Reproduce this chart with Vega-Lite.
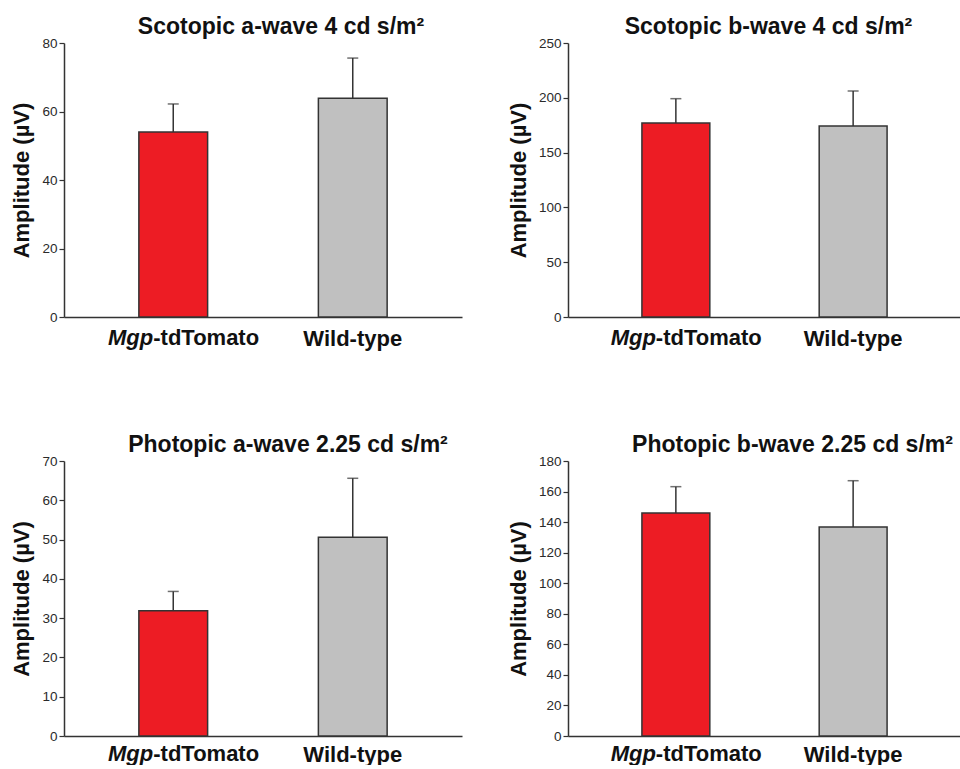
{
  "$schema": "https://vega.github.io/schema/vega-lite/v6.json",
  "background": "white",
  "padding": {"left": 10, "top": 16, "right": 0, "bottom": 0},
  "config": {
    "view": {"stroke": null},
    "font": "Liberation Sans",
    "axis": {"domainColor": "#333333", "domainWidth": 1.5, "labelFont": "Liberation Sans", "labelFontSize": 13.5, "labelColor": "#2a2a2a", "labelPadding": 2, "tickColor": "#333333", "tickWidth": 1.2, "tickSize": 5, "grid": false, "titleFont": "Liberation Sans", "titleFontSize": 22, "titleFontWeight": "bold", "titleColor": "#111111"},
    "title": {"font": "Liberation Sans", "fontSize": 23, "fontWeight": "bold", "color": "#111111", "offset": -3}
  },
  "datasets": {
    "erg": [
      {"panel": "sa", "group": "Mgp-tdTomato", "mean": 54.0, "upper": 62.2},
      {"panel": "sa", "group": "Wild-type", "mean": 63.9, "upper": 75.6},
      {"panel": "sb", "group": "Mgp-tdTomato", "mean": 177.0, "upper": 199.2},
      {"panel": "sb", "group": "Wild-type", "mean": 174.3, "upper": 206.2},
      {"panel": "pa", "group": "Mgp-tdTomato", "mean": 31.9, "upper": 36.8},
      {"panel": "pa", "group": "Wild-type", "mean": 50.6, "upper": 65.6},
      {"panel": "pb", "group": "Mgp-tdTomato", "mean": 146.0, "upper": 163.2},
      {"panel": "pb", "group": "Wild-type", "mean": 136.8, "upper": 167.1}
    ]
  },
  "columns": 2,
  "spacing": {"column": 45, "row": 85},
  "concat": [
    {
      "width": 398, "height": 274,
      "title": {"text": "Scotopic a-wave 4 cd s/m²", "dx": 18},
      "data": {"name": "erg"},
      "transform": [{"filter": "datum.panel == 'sa'"}],
      "encoding": {"x": {"field": "group", "type": "nominal", "sort": ["Mgp-tdTomato", "Wild-type"], "scale": {"paddingInner": 0.617, "paddingOuter": 0.417}, "axis": {"title": null, "ticks": false, "labelAngle": 0, "labelFontSize": 22, "labelFontWeight": "bold", "labelColor": "#111111", "labelPadding": 11, "labelExpr": "datum.value == 'Wild-type' ? datum.value : ''"}}},
      "layer": [
        {"mark": {"type": "bar", "stroke": "#333333", "strokeWidth": 1.5}, "encoding": {"y": {"field": "mean", "type": "quantitative", "title": "Amplitude (µV)", "scale": {"domain": [0, 80]}, "axis": {"values": [0, 20, 40, 60, 80], "titlePadding": 8}}, "color": {"field": "group", "type": "nominal", "scale": {"domain": ["Mgp-tdTomato", "Wild-type"], "range": ["#ED1C24", "#C0C0C0"]}, "legend": null}}},
        {"mark": {"type": "rule", "color": "#333333", "strokeWidth": 1.5}, "encoding": {"y": {"field": "mean", "type": "quantitative", "title": "Amplitude (µV)", "scale": {"domain": [0, 80]}, "axis": {"values": [0, 20, 40, 60, 80], "titlePadding": 8}}, "y2": {"field": "upper"}}},
        {"mark": {"type": "tick", "color": "#333333", "thickness": 1.5, "size": 11}, "encoding": {"y": {"field": "upper", "type": "quantitative", "title": "Amplitude (µV)", "scale": {"domain": [0, 80]}, "axis": {"values": [0, 20, 40, 60, 80], "titlePadding": 8}}}},
        {"transform": [{"filter": "datum.group == 'Mgp-tdTomato'"}], "mark": {"type": "text", "text": "Mgp", "font": "Liberation Sans", "fontStyle": "italic", "fontWeight": "bold", "fontSize": 22, "color": "#111111", "align": "right", "baseline": "top", "dx": -20, "dy": 11}, "encoding": {"y": {"datum": 0, "type": "quantitative", "title": "Amplitude (µV)", "scale": {"domain": [0, 80]}, "axis": {"values": [0, 20, 40, 60, 80], "titlePadding": 8}}}},
        {"transform": [{"filter": "datum.group == 'Mgp-tdTomato'"}], "mark": {"type": "text", "text": "-tdTomato", "font": "Liberation Sans", "fontWeight": "bold", "fontSize": 22, "color": "#111111", "align": "left", "baseline": "top", "dx": -20, "dy": 11}, "encoding": {"y": {"datum": 0, "type": "quantitative", "title": "Amplitude (µV)", "scale": {"domain": [0, 80]}, "axis": {"values": [0, 20, 40, 60, 80], "titlePadding": 8}}}}
      ]
    },
    {
      "width": 393, "height": 274,
      "title": {"text": "Scotopic b-wave 4 cd s/m²", "dx": 4},
      "data": {"name": "erg"},
      "transform": [{"filter": "datum.panel == 'sb'"}],
      "encoding": {"x": {"field": "group", "type": "nominal", "sort": ["Mgp-tdTomato", "Wild-type"], "scale": {"paddingInner": 0.617, "paddingOuter": 0.417}, "axis": {"title": null, "ticks": false, "labelAngle": 0, "labelFontSize": 22, "labelFontWeight": "bold", "labelColor": "#111111", "labelPadding": 11, "labelExpr": "datum.value == 'Wild-type' ? datum.value : ''"}}},
      "layer": [
        {"mark": {"type": "bar", "stroke": "#333333", "strokeWidth": 1.5}, "encoding": {"y": {"field": "mean", "type": "quantitative", "title": "Amplitude (µV)", "scale": {"domain": [0, 250]}, "axis": {"values": [0, 50, 100, 150, 200, 250], "titlePadding": 8}}, "color": {"field": "group", "type": "nominal", "scale": {"domain": ["Mgp-tdTomato", "Wild-type"], "range": ["#ED1C24", "#C0C0C0"]}, "legend": null}}},
        {"mark": {"type": "rule", "color": "#333333", "strokeWidth": 1.5}, "encoding": {"y": {"field": "mean", "type": "quantitative", "title": "Amplitude (µV)", "scale": {"domain": [0, 250]}, "axis": {"values": [0, 50, 100, 150, 200, 250], "titlePadding": 8}}, "y2": {"field": "upper"}}},
        {"mark": {"type": "tick", "color": "#333333", "thickness": 1.5, "size": 11}, "encoding": {"y": {"field": "upper", "type": "quantitative", "title": "Amplitude (µV)", "scale": {"domain": [0, 250]}, "axis": {"values": [0, 50, 100, 150, 200, 250], "titlePadding": 8}}}},
        {"transform": [{"filter": "datum.group == 'Mgp-tdTomato'"}], "mark": {"type": "text", "text": "Mgp", "font": "Liberation Sans", "fontStyle": "italic", "fontWeight": "bold", "fontSize": 22, "color": "#111111", "align": "right", "baseline": "top", "dx": -20, "dy": 11}, "encoding": {"y": {"datum": 0, "type": "quantitative", "title": "Amplitude (µV)", "scale": {"domain": [0, 250]}, "axis": {"values": [0, 50, 100, 150, 200, 250], "titlePadding": 8}}}},
        {"transform": [{"filter": "datum.group == 'Mgp-tdTomato'"}], "mark": {"type": "text", "text": "-tdTomato", "font": "Liberation Sans", "fontWeight": "bold", "fontSize": 22, "color": "#111111", "align": "left", "baseline": "top", "dx": -20, "dy": 11}, "encoding": {"y": {"datum": 0, "type": "quantitative", "title": "Amplitude (µV)", "scale": {"domain": [0, 250]}, "axis": {"values": [0, 50, 100, 150, 200, 250], "titlePadding": 8}}}}
      ]
    },
    {
      "width": 398, "height": 275,
      "title": {"text": "Photopic a-wave 2.25 cd s/m²", "dx": 25},
      "data": {"name": "erg"},
      "transform": [{"filter": "datum.panel == 'pa'"}],
      "encoding": {"x": {"field": "group", "type": "nominal", "sort": ["Mgp-tdTomato", "Wild-type"], "scale": {"paddingInner": 0.617, "paddingOuter": 0.417}, "axis": {"title": null, "ticks": false, "labelAngle": 0, "labelFontSize": 22, "labelFontWeight": "bold", "labelColor": "#111111", "labelPadding": 8, "labelExpr": "datum.value == 'Wild-type' ? datum.value : ''"}}},
      "layer": [
        {"mark": {"type": "bar", "stroke": "#333333", "strokeWidth": 1.5}, "encoding": {"y": {"field": "mean", "type": "quantitative", "title": "Amplitude (µV)", "scale": {"domain": [0, 70]}, "axis": {"values": [0, 10, 20, 30, 40, 50, 60, 70], "titlePadding": 8}}, "color": {"field": "group", "type": "nominal", "scale": {"domain": ["Mgp-tdTomato", "Wild-type"], "range": ["#ED1C24", "#C0C0C0"]}, "legend": null}}},
        {"mark": {"type": "rule", "color": "#333333", "strokeWidth": 1.5}, "encoding": {"y": {"field": "mean", "type": "quantitative", "title": "Amplitude (µV)", "scale": {"domain": [0, 70]}, "axis": {"values": [0, 10, 20, 30, 40, 50, 60, 70], "titlePadding": 8}}, "y2": {"field": "upper"}}},
        {"mark": {"type": "tick", "color": "#333333", "thickness": 1.5, "size": 11}, "encoding": {"y": {"field": "upper", "type": "quantitative", "title": "Amplitude (µV)", "scale": {"domain": [0, 70]}, "axis": {"values": [0, 10, 20, 30, 40, 50, 60, 70], "titlePadding": 8}}}},
        {"transform": [{"filter": "datum.group == 'Mgp-tdTomato'"}], "mark": {"type": "text", "text": "Mgp", "font": "Liberation Sans", "fontStyle": "italic", "fontWeight": "bold", "fontSize": 22, "color": "#111111", "align": "right", "baseline": "top", "dx": -20, "dy": 8}, "encoding": {"y": {"datum": 0, "type": "quantitative", "title": "Amplitude (µV)", "scale": {"domain": [0, 70]}, "axis": {"values": [0, 10, 20, 30, 40, 50, 60, 70], "titlePadding": 8}}}},
        {"transform": [{"filter": "datum.group == 'Mgp-tdTomato'"}], "mark": {"type": "text", "text": "-tdTomato", "font": "Liberation Sans", "fontWeight": "bold", "fontSize": 22, "color": "#111111", "align": "left", "baseline": "top", "dx": -20, "dy": 8}, "encoding": {"y": {"datum": 0, "type": "quantitative", "title": "Amplitude (µV)", "scale": {"domain": [0, 70]}, "axis": {"values": [0, 10, 20, 30, 40, 50, 60, 70], "titlePadding": 8}}}}
      ]
    },
    {
      "width": 393, "height": 275,
      "title": {"text": "Photopic b-wave 2.25 cd s/m²", "dx": 28},
      "data": {"name": "erg"},
      "transform": [{"filter": "datum.panel == 'pb'"}],
      "encoding": {"x": {"field": "group", "type": "nominal", "sort": ["Mgp-tdTomato", "Wild-type"], "scale": {"paddingInner": 0.617, "paddingOuter": 0.417}, "axis": {"title": null, "ticks": false, "labelAngle": 0, "labelFontSize": 22, "labelFontWeight": "bold", "labelColor": "#111111", "labelPadding": 8, "labelExpr": "datum.value == 'Wild-type' ? datum.value : ''"}}},
      "layer": [
        {"mark": {"type": "bar", "stroke": "#333333", "strokeWidth": 1.5}, "encoding": {"y": {"field": "mean", "type": "quantitative", "title": "Amplitude (µV)", "scale": {"domain": [0, 180]}, "axis": {"values": [0, 20, 40, 60, 80, 100, 120, 140, 160, 180], "titlePadding": 8}}, "color": {"field": "group", "type": "nominal", "scale": {"domain": ["Mgp-tdTomato", "Wild-type"], "range": ["#ED1C24", "#C0C0C0"]}, "legend": null}}},
        {"mark": {"type": "rule", "color": "#333333", "strokeWidth": 1.5}, "encoding": {"y": {"field": "mean", "type": "quantitative", "title": "Amplitude (µV)", "scale": {"domain": [0, 180]}, "axis": {"values": [0, 20, 40, 60, 80, 100, 120, 140, 160, 180], "titlePadding": 8}}, "y2": {"field": "upper"}}},
        {"mark": {"type": "tick", "color": "#333333", "thickness": 1.5, "size": 11}, "encoding": {"y": {"field": "upper", "type": "quantitative", "title": "Amplitude (µV)", "scale": {"domain": [0, 180]}, "axis": {"values": [0, 20, 40, 60, 80, 100, 120, 140, 160, 180], "titlePadding": 8}}}},
        {"transform": [{"filter": "datum.group == 'Mgp-tdTomato'"}], "mark": {"type": "text", "text": "Mgp", "font": "Liberation Sans", "fontStyle": "italic", "fontWeight": "bold", "fontSize": 22, "color": "#111111", "align": "right", "baseline": "top", "dx": -20, "dy": 8}, "encoding": {"y": {"datum": 0, "type": "quantitative", "title": "Amplitude (µV)", "scale": {"domain": [0, 180]}, "axis": {"values": [0, 20, 40, 60, 80, 100, 120, 140, 160, 180], "titlePadding": 8}}}},
        {"transform": [{"filter": "datum.group == 'Mgp-tdTomato'"}], "mark": {"type": "text", "text": "-tdTomato", "font": "Liberation Sans", "fontWeight": "bold", "fontSize": 22, "color": "#111111", "align": "left", "baseline": "top", "dx": -20, "dy": 8}, "encoding": {"y": {"datum": 0, "type": "quantitative", "title": "Amplitude (µV)", "scale": {"domain": [0, 180]}, "axis": {"values": [0, 20, 40, 60, 80, 100, 120, 140, 160, 180], "titlePadding": 8}}}}
      ]
    }
  ]
}
